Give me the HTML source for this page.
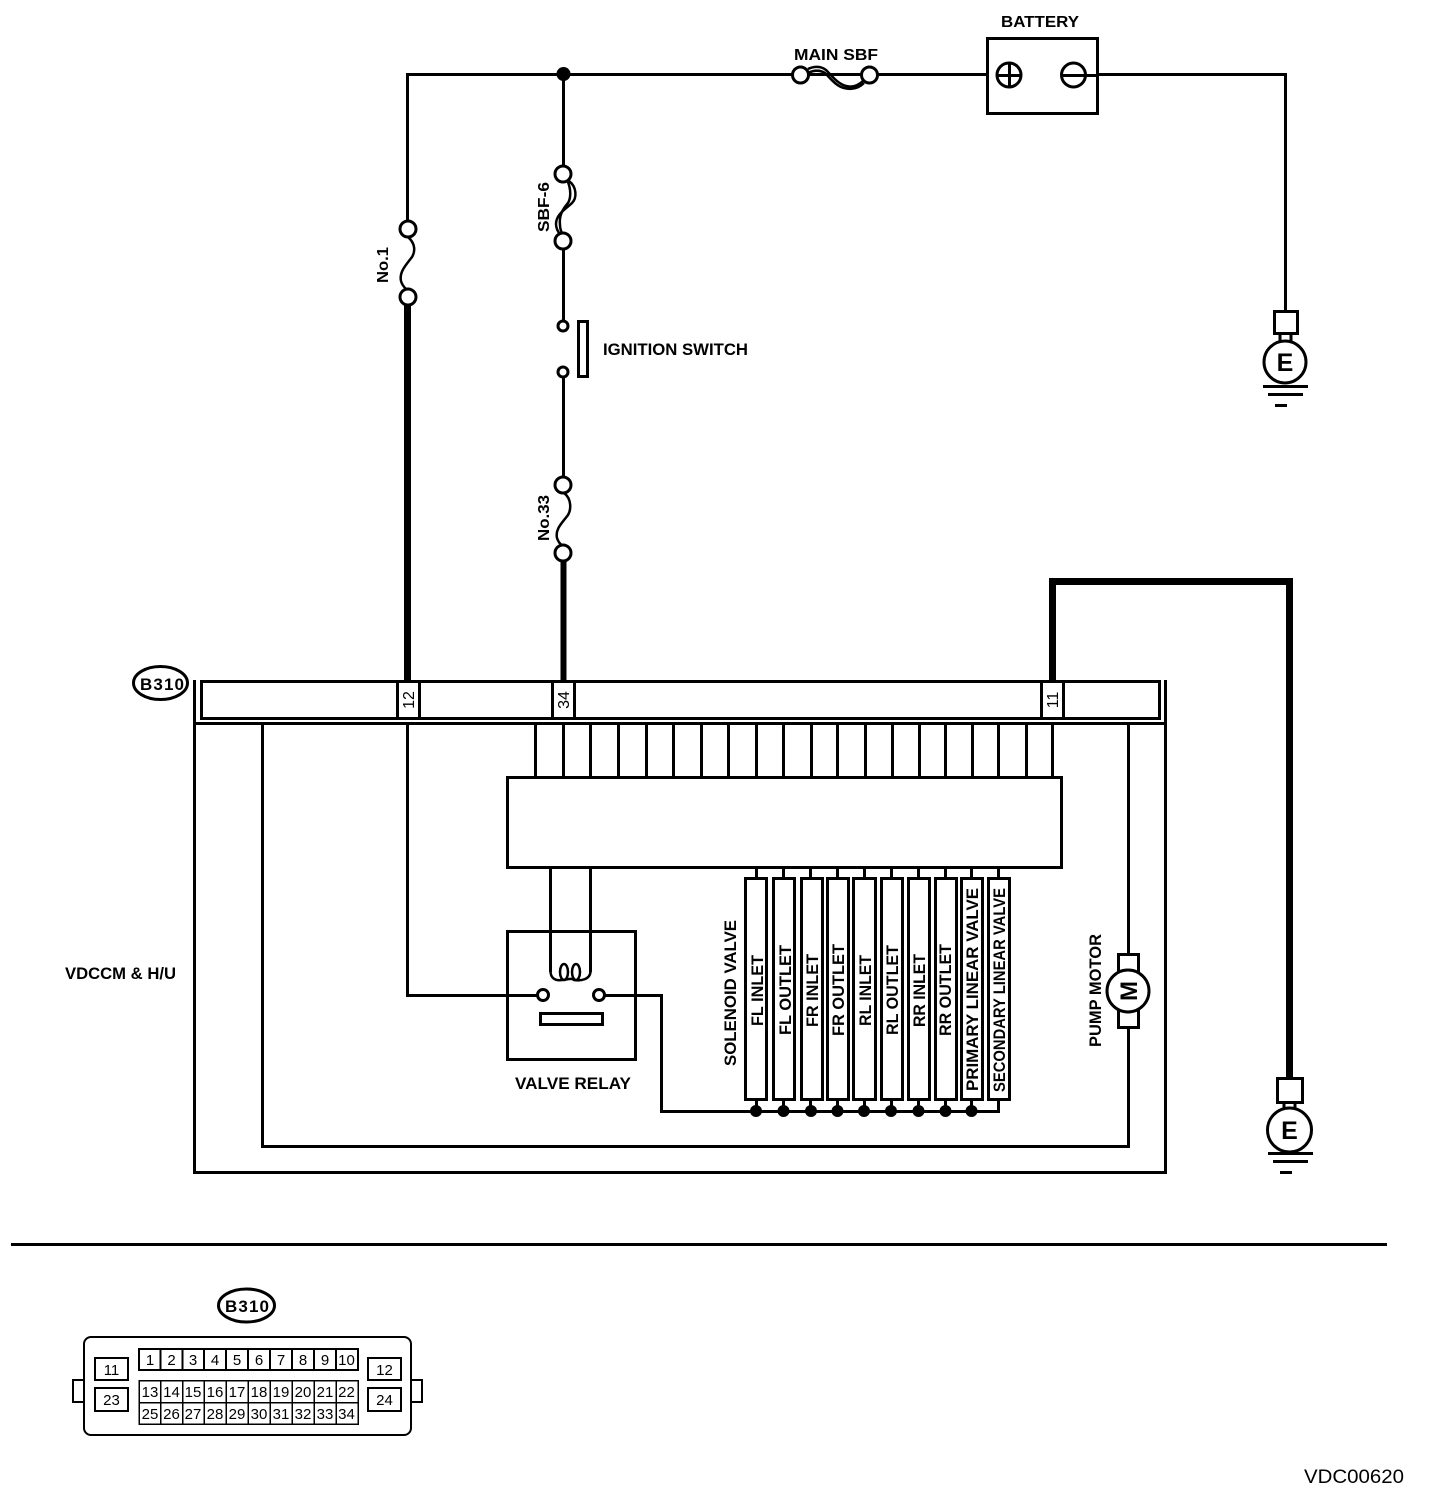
<!DOCTYPE html>
<html>
<head>
<meta charset="utf-8">
<style>
html,body{margin:0;padding:0;background:#fff;width:1456px;height:1494px;overflow:hidden}
svg{display:block}
text{font-family:"Liberation Sans",sans-serif;fill:#000}
.b{font-weight:bold;font-size:17px}
.m{font-weight:bold;font-size:16px}
.n{font-size:15px;text-anchor:middle}
.r{font-size:16px;text-anchor:middle}
.l{stroke:#000;stroke-width:3;fill:none;shape-rendering:crispEdges}
.t{stroke:#000;fill:none;shape-rendering:crispEdges}
.c{stroke:#000;stroke-width:3;fill:#fff}
.f{stroke:#000;stroke-width:2.5;fill:none}
.p{stroke:#000;stroke-width:2;fill:none;shape-rendering:crispEdges}
</style>
</head>
<body>
<svg width="1456" height="1494" viewBox="0 0 1456 1494" xmlns="http://www.w3.org/2000/svg">
<!-- top wiring -->
<path class="l" d="M407.5 222V74.5H987"/>
<path class="l" d="M563.5 74V166M563.5 249V321M563.5 377V477"/>
<path class="l" d="M1097 74.5H1285.5V311"/>
<circle cx="563.5" cy="74" r="7" fill="#000"/>
<!-- main SBF -->
<path class="f" d="M808 69C814 66 821 66 826 70C832 76 838 84 846 86C853 88 859 85 864 80"/>
<path class="f" d="M808 73C814 70 820 70 825 73C830 78 836 86 844 88C852 90 859 88 864 83"/>
<circle class="c" cx="800.5" cy="75" r="8"/>
<circle class="c" cx="869.5" cy="75" r="8"/>
<!-- battery -->
<rect class="l" x="987.5" y="38.5" width="110" height="75" fill="#fff"/>
<path class="l" d="M1097 74.5H1110"/>
<circle class="c" cx="1009" cy="75" r="12"/>
<path class="l" d="M997 75.5H1021M1009.5 63V87"/>
<circle class="c" cx="1073.5" cy="75" r="12"/>
<path class="l" d="M1062 75.5H1097"/>
<text class="m" x="1001" y="27" textLength="78" lengthAdjust="spacingAndGlyphs">BATTERY</text>
<text class="m" x="794" y="60" textLength="84" lengthAdjust="spacingAndGlyphs">MAIN SBF</text>
<!-- No.1 fuse -->
<path class="f" d="M408 237C416 244 415 252 412 257C406 265 399 272 401 281C402 285 404 287 406 289"/>
<circle class="c" cx="408" cy="229" r="8"/>
<circle class="c" cx="408" cy="297" r="8"/>
<path class="t" stroke-width="7" d="M407.5 305V681"/>
<text class="m" transform="translate(388,283) rotate(-90)" textLength="36" lengthAdjust="spacingAndGlyphs">No.1</text>
<!-- SBF-6 fuse -->
<path class="f" d="M569 181C577 187 577 198 572 203C566 209 556 214 556 224C556 228 558 232 560 234"/>
<path class="f" d="M568 182C571 190 571 198 568 203C562 210 559 216 560 225C560 228 561 231 562 233"/>
<circle class="c" cx="563" cy="174" r="8"/>
<circle class="c" cx="563" cy="241" r="8"/>
<text class="m" transform="translate(549,232) rotate(-90)" textLength="50" lengthAdjust="spacingAndGlyphs">SBF-6</text>
<!-- ignition -->
<circle class="c" cx="563" cy="326" r="5"/>
<circle class="c" cx="563" cy="372" r="5"/>
<rect class="l" x="578.5" y="321.5" width="9" height="55"/>
<text class="b" x="603" y="355" textLength="145" lengthAdjust="spacingAndGlyphs">IGNITION SWITCH</text>
<!-- No.33 fuse -->
<path class="f" d="M564 493C572 499 571 510 568 515C562 523 555 529 557 538C558 541 560 544 562 545"/>
<circle class="c" cx="563" cy="485" r="8"/>
<circle class="c" cx="563" cy="553" r="8"/>
<path class="t" stroke-width="6" d="M563.5 561V681"/>
<text class="m" transform="translate(549,541) rotate(-90)" textLength="46" lengthAdjust="spacingAndGlyphs">No.33</text>
<!-- ground 1 -->
<path class="l" d="M1280 333V342M1291 333V342"/>
<rect class="l" x="1274.5" y="311.5" width="23" height="22"/>
<circle class="c" cx="1285" cy="362" r="21"/>
<text x="1285" y="371" text-anchor="middle" font-size="25" font-weight="bold">E</text>
<path class="l" d="M1263 386.5H1308M1268 394.5H1303M1275 405.5H1287"/>
<!-- thick wire -->
<path class="t" stroke-width="7" d="M1052.5 681V581.5H1289.5V1078"/>
<!-- ground 2 -->
<path class="l" d="M1284 1103V1112M1295 1103V1112"/>
<rect class="l" x="1277.5" y="1078.5" width="25" height="24"/>
<circle class="c" cx="1289.5" cy="1130" r="22"/>
<text x="1289.5" y="1139" text-anchor="middle" font-size="25" font-weight="bold">E</text>
<path class="l" d="M1268 1153.5H1313M1273 1161.5H1308M1280 1172.5H1292"/>
<!-- module frame -->
<path class="l" d="M194.5 680V1172.5H1165.5V680"/>
<path class="l" d="M194 723.5H1165"/>
<rect class="l" x="201.5" y="681.5" width="958" height="37"/>
<path class="l" d="M397.5 681V718M419.5 681V718M552.5 681V718M574.5 681V718M1041.5 681V718M1063.5 681V718"/>
<text class="r" transform="translate(414,700) rotate(-90)">12</text>
<text class="r" transform="translate(569,700) rotate(-90)">34</text>
<text class="r" transform="translate(1058,700) rotate(-90)">11</text>
<ellipse class="c" cx="160.5" cy="683" rx="27" ry="16.5"/>
<text x="140" y="690" font-size="17" font-weight="bold" textLength="44" lengthAdjust="spacing">B310</text>
<!-- internal wires -->
<path class="l" d="M262.5 723V1146.5H1128.5V1028M1128.5 723V954"/>
<path class="l" d="M407.5 723V995.5H537"/>
<path class="l" d="M605 995.5H661.5V1111.5H998.5V1100"/>
<!-- bus stubs -->
<path class="l" d="M535.5 723V777M563.5 723V777M590.5 723V777M618.5 723V777M646.5 723V777M673.5 723V777M701.5 723V777M728.5 723V777M756.5 723V777M783.5 723V777M811.5 723V777M837.5 723V777M865.5 723V777M892.5 723V777M919.5 723V777M945.5 723V777M972.5 723V777M998.5 723V777M1026.5 723V777M1052.5 723V777"/>
<rect class="l" x="507.5" y="777.5" width="554" height="90"/>
<!-- relay -->
<rect class="l" x="507.5" y="931.5" width="128" height="128"/>
<path class="l" d="M550.5 867V972" />
<path class="l" d="M590.5 867V972" />
<path class="f" d="M550.5 971C550.5 978 555 981 562 980C570 979 572 978 574 980C580 981 590.5 980 590.5 971"/>
<ellipse class="f" cx="564" cy="972" rx="4" ry="8"/>
<ellipse class="f" cx="576" cy="972" rx="4" ry="8"/>
<circle class="c" cx="543" cy="995" r="5.5"/>
<circle class="c" cx="599" cy="995" r="5.5"/>
<rect class="l" x="540.5" y="1013.5" width="62" height="11"/>
<text class="b" x="515" y="1089" textLength="116" lengthAdjust="spacingAndGlyphs">VALVE RELAY</text>
<text class="b" x="65" y="979" textLength="111" lengthAdjust="spacingAndGlyphs">VDCCM &amp; H/U</text>
<!-- valves -->
<path class="l" d="M756.5 867V878M783.5 867V878M810.5 867V878M837.5 867V878M864.5 867V878M891.5 867V878M918.5 867V878M945.5 867V878M971.5 867V878M998.5 867V878M756.5 1100V1111M783.5 1100V1111M810.5 1100V1111M837.5 1100V1111M864.5 1100V1111M891.5 1100V1111M918.5 1100V1111M945.5 1100V1111M971.5 1100V1111"/>
<g class="l">
<rect x="745.5" y="878.5" width="21" height="221"/>
<rect x="773.5" y="878.5" width="21" height="221"/>
<rect x="801.5" y="878.5" width="21" height="221"/>
<rect x="827.5" y="878.5" width="21" height="221"/>
<rect x="853.5" y="878.5" width="22" height="221"/>
<rect x="881.5" y="878.5" width="21" height="221"/>
<rect x="908.5" y="878.5" width="21" height="221"/>
<rect x="935.5" y="878.5" width="21" height="221"/>
<rect x="961.5" y="878.5" width="21" height="221"/>
<rect x="988.5" y="878.5" width="21" height="221"/>
</g>
<g fill="#000">
<circle cx="756" cy="1111" r="6"/><circle cx="783.5" cy="1111" r="6"/><circle cx="811" cy="1111" r="6"/><circle cx="837.5" cy="1111" r="6"/><circle cx="864" cy="1111" r="6"/><circle cx="891" cy="1111" r="6"/><circle cx="918.5" cy="1111" r="6"/><circle cx="945.5" cy="1111" r="6"/><circle cx="971.5" cy="1111" r="6"/>
</g>
<text class="b" transform="translate(736,1066) rotate(-90)" textLength="146" lengthAdjust="spacingAndGlyphs">SOLENOID VALVE</text>
<text class="b" transform="translate(763,1026) rotate(-90)" textLength="71" lengthAdjust="spacingAndGlyphs">FL INLET</text>
<text class="b" transform="translate(791,1035) rotate(-90)" textLength="90" lengthAdjust="spacingAndGlyphs">FL OUTLET</text>
<text class="b" transform="translate(818,1027) rotate(-90)" textLength="73" lengthAdjust="spacingAndGlyphs">FR INLET</text>
<text class="b" transform="translate(844,1036) rotate(-90)" textLength="92" lengthAdjust="spacingAndGlyphs">FR OUTLET</text>
<text class="b" transform="translate(871,1026) rotate(-90)" textLength="71" lengthAdjust="spacingAndGlyphs">RL INLET</text>
<text class="b" transform="translate(898,1035) rotate(-90)" textLength="90" lengthAdjust="spacingAndGlyphs">RL OUTLET</text>
<text class="b" transform="translate(925,1027) rotate(-90)" textLength="73" lengthAdjust="spacingAndGlyphs">RR INLET</text>
<text class="b" transform="translate(951,1036) rotate(-90)" textLength="92" lengthAdjust="spacingAndGlyphs">RR OUTLET</text>
<text class="b" transform="translate(978,1091) rotate(-90)" textLength="203" lengthAdjust="spacingAndGlyphs">PRIMARY LINEAR VALVE</text>
<text class="b" transform="translate(1005,1092) rotate(-90)" textLength="204" lengthAdjust="spacingAndGlyphs">SECONDARY LINEAR VALVE</text>
<!-- motor -->
<rect class="l" x="1118.5" y="954.5" width="20" height="73" fill="#fff"/>
<circle class="c" cx="1128" cy="991" r="21"/>
<text x="1128" y="991" font-size="24" font-weight="bold" text-anchor="middle" transform="rotate(-90 1128 991) translate(0,9)">M</text>
<text class="b" transform="translate(1101,1047) rotate(-90)" textLength="113" lengthAdjust="spacingAndGlyphs">PUMP MOTOR</text>
<!-- divider -->
<path class="l" d="M11 1244.5H1387"/>
<!-- connector -->
<ellipse class="c" cx="246.5" cy="1305.5" rx="28" ry="16.5"/>
<text x="225" y="1312" font-size="17" font-weight="bold" textLength="44" lengthAdjust="spacing">B310</text>
<path class="p" d="M84 1380H73V1402H84M411 1380H422V1402H411"/>
<rect x="84" y="1337" width="327" height="98" rx="7" ry="7" stroke="#000" stroke-width="2" fill="#fff"/>
<rect class="p" x="95" y="1358" width="33" height="22"/>
<rect class="p" x="95" y="1388" width="33" height="23"/>
<rect class="p" x="368" y="1358" width="33" height="22"/>
<rect class="p" x="368" y="1388" width="33" height="23"/>
<path class="t" stroke-width="2" d="M139 1349H358V1370H139ZM160.500 1349V1370M182.500 1349V1370M204 1349V1370M226 1349V1370M248 1349V1370M270 1349V1370M292 1349V1370M314 1349V1370M336 1349V1370"/>
<path class="t" stroke-width="1.500" d="M139 1380.500H358V1424H139ZM139 1402.500H358M160.500 1380V1424M182.500 1380V1424M204 1380V1424M226 1380V1424M248 1380V1424M270 1380V1424M292 1380V1424M314 1380V1424M336 1380V1424"/>
<g class="n">
<text x="111.500" y="1375">11</text><text x="111.500" y="1405">23</text><text x="384.500" y="1375">12</text><text x="384.500" y="1405">24</text>
<text x="150" y="1365">1</text><text x="171.500" y="1365">2</text><text x="193" y="1365">3</text><text x="215" y="1365">4</text><text x="237" y="1365">5</text><text x="259" y="1365">6</text><text x="281" y="1365">7</text><text x="303" y="1365">8</text><text x="325" y="1365">9</text><text x="346.500" y="1365">10</text>
<text x="150" y="1397">13</text><text x="171.500" y="1397">14</text><text x="193" y="1397">15</text><text x="215" y="1397">16</text><text x="237" y="1397">17</text><text x="259" y="1397">18</text><text x="281" y="1397">19</text><text x="303" y="1397">20</text><text x="325" y="1397">21</text><text x="346.500" y="1397">22</text>
<text x="150" y="1419">25</text><text x="171.500" y="1419">26</text><text x="193" y="1419">27</text><text x="215" y="1419">28</text><text x="237" y="1419">29</text><text x="259" y="1419">30</text><text x="281" y="1419">31</text><text x="303" y="1419">32</text><text x="325" y="1419">33</text><text x="346.500" y="1419">34</text>
</g>
<text x="1304" y="1483" font-size="19" textLength="100" lengthAdjust="spacingAndGlyphs">VDC00620</text>
</svg>
</body>
</html>
